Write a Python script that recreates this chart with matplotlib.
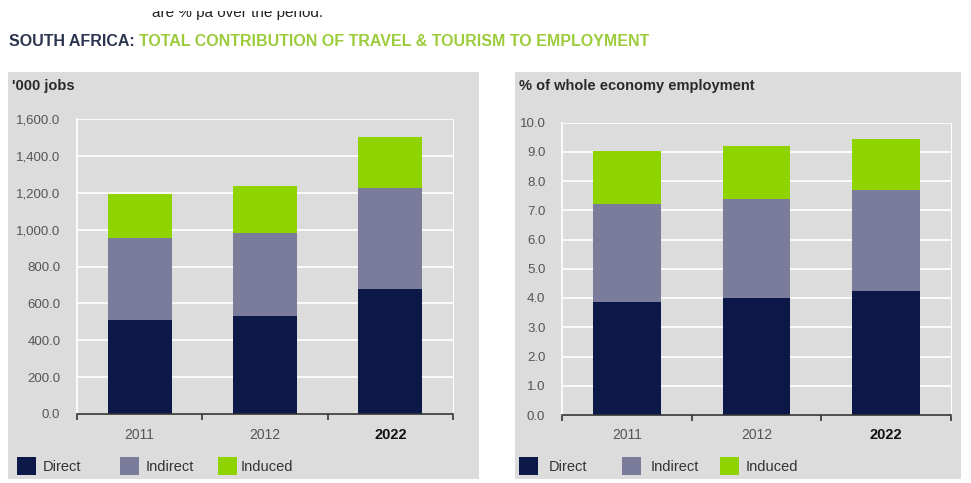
import matplotlib
matplotlib.use("Agg")
import matplotlib.pyplot as plt
from matplotlib.patches import Rectangle
import numpy as np

plt.rcParams['font.family'] = ['Liberation Sans', 'DejaVu Sans']

years = ['2011', '2012', '2022']
series = ['Direct', 'Indirect', 'Induced']

# '000 jobs
jobs_direct = [511, 532, 679]
jobs_indirect = [445, 452, 549]
jobs_induced = [239, 250, 277]

# % of whole economy employment
pct_direct = [3.86, 4.0, 4.24]
pct_indirect = [3.35, 3.38, 3.45]
pct_induced = [1.82, 1.82, 1.75]

colors = ['#0b1848', '#7b7b9b', '#8fd400']
panel_bg = '#dcdcdc'
W, H = 971, 483

fig = plt.figure(figsize=(W / 100, H / 100), dpi=100)
fig.patch.set_facecolor('white')


def px_axes(x0, y0, x1, y1, **kw):
    # pixel box (top-left origin) -> figure axes
    return fig.add_axes([x0 / W, 1 - y1 / H, (x1 - x0) / W, (y1 - y0) / H], **kw)


# header: last line of the paragraph above, cut off at the top edge
fig.text(152 / W, 1 - 17 / H, 'are % pa over the period.', fontsize=11, color='#222222',
         ha='left', va='baseline')
fig.patches.append(Rectangle((0, 1 - 11 / H), 1, 11 / H, transform=fig.transFigure,
                             facecolor='white', edgecolor='none', zorder=5, figure=fig))

t1 = fig.text(9 / W, 1 - 42 / H, 'SOUTH AFRICA: ', fontsize=11.5, fontweight='bold',
              color='#2b3550', ha='left', va='center')
fig.canvas.draw()
bb = t1.get_window_extent()
fig.text(bb.x1 / W, 1 - 42 / H, 'TOTAL CONTRIBUTION OF TRAVEL & TOURISM TO EMPLOYMENT',
         fontsize=11.5, fontweight='bold', color='#9ccc3c', ha='left', va='center')


def panel(box, plot_box, title, data, ymax, step, bar_w, fmt, legend_x):
    x0, y0, x1, y1 = box
    bg = px_axes(x0, y0, x1, y1)
    bg.set_axis_off()
    bg.add_patch(Rectangle((0, 0), 1, 1, transform=bg.transAxes, facecolor=panel_bg,
                           edgecolor='none'))
    fig.text((x0 + 4) / W, 1 - 86 / H, title, fontsize=10.5, fontweight='bold',
             color='#2a2a2a', ha='left', va='center')

    ax = px_axes(*plot_box)
    ax.set_facecolor(panel_bg)
    x = np.arange(len(years))
    bottom = np.zeros(len(years))
    for vals, c, name in zip(data, colors, series):
        ax.bar(x, vals, bar_w, bottom=bottom, color=c, label=name, zorder=3)
        bottom += np.array(vals)
    ax.set_xlim(-0.5, len(years) - 0.5)
    ax.set_ylim(0, ymax)
    ticks = np.arange(0, ymax + step / 2, step)
    ax.set_yticks(ticks)
    ax.set_yticklabels([fmt(v) for v in ticks], fontsize=9.5, color='#555555')
    ax.yaxis.grid(True, color='white', linewidth=1.2, zorder=0)
    ax.tick_params(axis='y', length=0, pad=12)
    ax.spines['top'].set_visible(False)
    ax.spines['right'].set_color('white')
    ax.spines['left'].set_color('white')
    ax.spines['left'].set_linewidth(1.2)
    ax.spines['bottom'].set_color('#333333')
    ax.spines['bottom'].set_linewidth(1.2)
    ax.spines['bottom'].set_zorder(4)
    ax.set_xticks(np.arange(-0.5, len(years)))
    ax.set_xticklabels([])
    ax.tick_params(axis='x', length=4, width=1.2, color='#333333', direction='out')
    for i, yr in enumerate(years):
        bold = yr == years[-1]
        ax.text(i, -0.07, yr, transform=ax.get_xaxis_transform(), ha='center', va='center',
                fontsize=10.5 if bold else 10, fontweight='bold' if bold else 'normal',
                color='#111111' if bold else '#555555')

    # legend row
    for (lx, tx), c, name in zip(legend_x, colors, series):
        fig.patches.append(Rectangle((lx / W, 1 - 475 / H), 19 / W, 18 / H,
                                     transform=fig.transFigure, facecolor=c,
                                     edgecolor='none', figure=fig))
        fig.text(tx / W, 1 - 467 / H, name, fontsize=10.5, color='#333333',
                 ha='left', va='center')
    return ax


panel((8, 72, 479, 479), (77, 119, 453, 414), "'000 jobs",
      [jobs_direct, jobs_indirect, jobs_induced], 1600, 200, 0.51,
      lambda v: f'{v:,.1f}', [(17, 43), (120, 146), (218, 241)])

panel((515, 72, 961, 479), (562, 122.5, 951, 415), '% of whole economy employment',
      [pct_direct, pct_indirect, pct_induced], 10, 1, 0.52,
      lambda v: f'{v:.1f}', [(519, 549), (622, 651), (720, 746)])

fig.savefig('out.png', dpi=100, facecolor='white')
